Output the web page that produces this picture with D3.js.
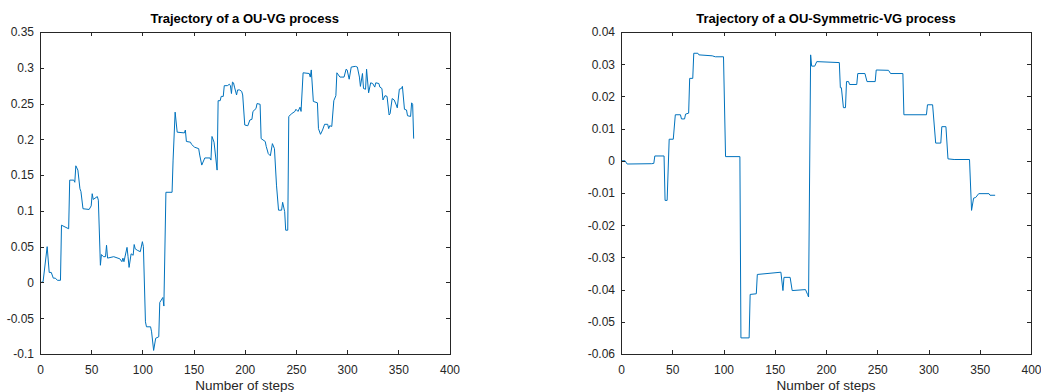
<!DOCTYPE html>
<html>
<head>
<meta charset="utf-8">
<script src="https://cdn.jsdelivr.net/npm/d3@7"></script>
<style>
  body { margin: 0; background: #fff; }
  svg { display: block; font-family: 'Liberation Sans', Arial, Helvetica, sans-serif; }
</style>
</head>
<body>
<svg id="chart" width="1041" height="392"></svg>
<script>
// step / value pairs (turning points of each path)
const vgSteps = [1, 3, 7, 9, 11, 13, 15, 17, 20, 21, 28, 29, 33, 34, 35, 37, 39, 40, 42, 48,
  50, 51, 52, 56, 57, 59, 60, 62, 64, 65, 66, 72, 78, 80, 81, 82, 85, 86, 87, 89,
  91, 92, 93, 95, 98, 100, 101, 103, 104, 108, 109, 111, 113, 116, 117, 120, 121, 123, 129, 130,
  132, 134, 141, 142, 143, 147, 148, 151, 155, 156, 158, 161, 166, 167, 168, 170, 173, 174, 176, 177,
  179, 180, 183, 185, 186, 187, 188, 189, 190, 192, 193, 195, 197, 198, 200, 203, 205, 207, 208, 211,
  212, 215, 216, 220, 221, 223, 225, 227, 229, 231, 233, 236, 237, 239, 240, 242, 243, 246, 249, 250,
  252, 254, 255, 257, 263, 264, 265, 267, 271, 272, 274, 276, 278, 281, 282, 283, 285, 287, 289, 290,
  293, 297, 299, 300, 302, 304, 308, 310, 312, 313, 315, 316, 318, 319, 321, 323, 325, 327, 328, 331,
  332, 334, 335, 337, 339, 341, 342, 344, 346, 348, 349, 351, 353, 354, 356, 358, 359, 362, 363, 364,
  365];
const vgValues = [0, 0.001, 0.05, 0.014, 0.014, 0.006, 0.006, 0.003, 0.003, 0.08, 0.075, 0.143, 0.143, 0.14, 0.163, 0.157, 0.131, 0.127, 0.103, 0.102,
  0.107, 0.124, 0.116, 0.12, 0.115, 0.024, 0.039, 0.036, 0.036, 0.052, 0.034, 0.036, 0.033, 0.029, 0.034, 0.029, 0.049, 0.036, 0.021, 0.04,
  0.038, 0.053, 0.047, 0.045, 0.043, 0.057, 0.05, -0.055, -0.062, -0.062, -0.069, -0.095, -0.078, -0.076, -0.028, -0.021, -0.033, 0.126, 0.126, 0.171,
  0.238, 0.21, 0.209, 0.213, 0.197, 0.196, 0.193, 0.189, 0.187, 0.178, 0.164, 0.174, 0.174, 0.171, 0.204, 0.196, 0.157, 0.254, 0.254, 0.26,
  0.26, 0.275, 0.275, 0.277, 0.275, 0.264, 0.28, 0.279, 0.273, 0.262, 0.269, 0.269, 0.267, 0.262, 0.22, 0.219, 0.227, 0.228, 0.239, 0.243,
  0.25, 0.249, 0.201, 0.197, 0.19, 0.18, 0.177, 0.194, 0.187, 0.136, 0.101, 0.101, 0.112, 0.099, 0.073, 0.073, 0.232, 0.236, 0.239, 0.242,
  0.239, 0.245, 0.239, 0.293, 0.292, 0.287, 0.297, 0.253, 0.251, 0.215, 0.207, 0.213, 0.221, 0.221, 0.215, 0.219, 0.218, 0.254, 0.261, 0.293,
  0.287, 0.287, 0.298, 0.297, 0.284, 0.301, 0.302, 0.301, 0.287, 0.274, 0.292, 0.271, 0.27, 0.298, 0.265, 0.279, 0.278, 0.273, 0.279, 0.278,
  0.273, 0.271, 0.255, 0.261, 0.26, 0.234, 0.236, 0.257, 0.255, 0.248, 0.244, 0.27, 0.271, 0.274, 0.242, 0.241, 0.233, 0.232, 0.251, 0.249,
  0.201];

const symSteps = [1, 4, 6, 30, 32, 33, 42, 43, 45, 47, 51, 53, 58, 59, 62, 63, 66, 67, 70, 71,
  75, 76, 89, 92, 100, 102, 116, 117, 125, 126, 132, 133, 156, 158, 159, 165, 167, 180, 182, 183,
  185, 186, 189, 191, 213, 214, 215, 217, 219, 220, 222, 223, 230, 231, 238, 240, 248, 249, 261, 263,
  275, 276, 298, 299, 304, 307, 312, 313, 317, 319, 325, 340, 342, 344, 346, 349, 359, 360, 365];
const symValues = [0, 0, -0.001, -0.0009, -0.0008, 0.0015, 0.0015, -0.0123, -0.0123, 0.0067, 0.0067, 0.0143, 0.0143, 0.013, 0.013, 0.0145, 0.0148, 0.0256, 0.0256, 0.0334,
  0.0334, 0.0329, 0.0326, 0.0323, 0.0323, 0.0013, 0.0013, -0.055, -0.055, -0.0415, -0.0413, -0.0353, -0.0346, -0.0403, -0.0362, -0.0362, -0.0403, -0.04, -0.0415, -0.0423,
  0.0329, 0.0294, 0.0294, 0.0308, 0.0305, 0.0227, 0.0227, 0.0165, 0.0165, 0.0246, 0.0246, 0.0237, 0.0237, 0.0271, 0.0271, 0.0246, 0.0246, 0.0282, 0.0281, 0.0271,
  0.0271, 0.0143, 0.0143, 0.0174, 0.0174, 0.0055, 0.0055, 0.0106, 0.0106, 0.0006, 0.0004, 0.0004, -0.0154, -0.0116, -0.0114, -0.0102, -0.0102, -0.0107, -0.0107];

const xTicks = [0, 50, 100, 150, 200, 250, 300, 350, 400];
const vgTicks = [-0.1, -0.05, 0, 0.05, 0.1, 0.15, 0.2, 0.25, 0.3, 0.35];
const symTicks = [-0.06, -0.05, -0.04, -0.03, -0.02, -0.01, 0, 0.01, 0.02, 0.03, 0.04];

const titles = ['Trajectory of a OU-VG process', 'Trajectory of a OU-Symmetric-VG process'];
const xLabel = 'Number of steps';

const svg = d3.select('#chart');
const axisColor = '#262626';
const fmt = d => String(Math.round(d * 10000) / 10000);

function drawPanel(left, right, steps, values, yTicks, title) {
  const top = 32, bottom = 354;
  const x = d3.scaleLinear().domain([0, 400]).range([left, right]);
  const y = d3.scaleLinear().domain([yTicks[0], yTicks[yTicks.length - 1]]).range([bottom, top]);

  const g = svg.append('g');

  const line = d3.line()
    .x(d => x(d[0]))
    .y(d => y(d[1]));

  g.append('path')
    .datum(d3.zip(steps, values))
    .attr('d', line)
    .style('fill', 'none')
    .style('stroke', '#0072BD')
    .style('stroke-width', 1)
    .style('stroke-linejoin', 'round');

  const styleAxis = sel => {
    sel.selectAll('path, line').attr('stroke', axisColor).attr('shape-rendering', 'crispEdges');
    sel.selectAll('text').attr('fill', axisColor).style('font-size', '12px');
  };

  g.append('g')
    .attr('transform', 'translate(0,' + bottom + ')')
    .call(d3.axisBottom(x).tickValues(xTicks).tickFormat(fmt).tickSizeInner(-4).tickSizeOuter(0).tickPadding(11))
    .call(styleAxis);
  g.append('g')
    .attr('transform', 'translate(0,' + top + ')')
    .call(d3.axisTop(x).tickValues(xTicks).tickFormat('').tickSizeInner(-4).tickSizeOuter(0))
    .call(styleAxis);
  g.append('g')
    .attr('transform', 'translate(' + left + ',0)')
    .call(d3.axisLeft(y).tickValues(yTicks).tickFormat(fmt).tickSizeInner(-4).tickSizeOuter(0).tickPadding(6))
    .call(styleAxis);
  g.append('g')
    .attr('transform', 'translate(' + right + ',0)')
    .call(d3.axisRight(y).tickValues(yTicks).tickFormat('').tickSizeInner(-4).tickSizeOuter(0))
    .call(styleAxis);

  g.selectAll('.domain').attr('fill', 'none');

  g.append('text')
    .attr('x', (left + right) / 2)
    .attr('y', 23)
    .attr('text-anchor', 'middle')
    .style('font-size', '13px')
    .style('font-weight', 'bold')
    .attr('fill', '#000')
    .text(title);

  g.append('text')
    .attr('x', (left + right) / 2)
    .attr('y', 390)
    .attr('text-anchor', 'middle')
    .style('font-size', '13.5px')
    .attr('fill', axisColor)
    .text(xLabel);
}

drawPanel(40, 449.5, vgSteps, vgValues, vgTicks, titles[0]);
drawPanel(621, 1031, symSteps, symValues, symTicks, titles[1]);
</script>
</body>
</html>
